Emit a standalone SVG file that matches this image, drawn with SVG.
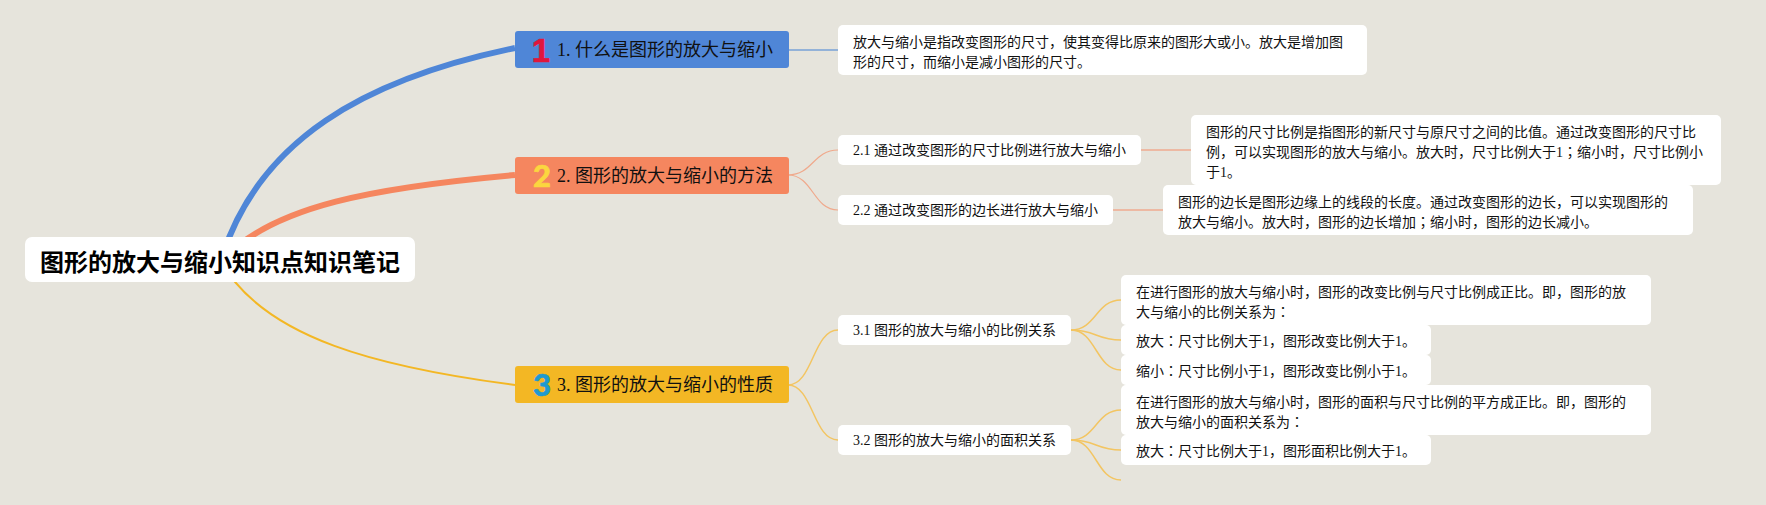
<svg xmlns="http://www.w3.org/2000/svg" width="1766" height="505" viewBox="0 0 1766 505">
<style>
text{font-family:"Liberation Serif","Noto Sans CJK SC",serif;fill:#111}
.w{fill:#fff}
.d{font-size:14px}
.t{font-size:18px}
.c{font-family:"Noto Sans CJK TC",sans-serif}
.r{font-family:"Liberation Sans","Noto Sans CJK SC",sans-serif;font-size:24px;font-weight:700;fill:#000}
.b{font-family:Lato,"Liberation Sans",sans-serif;font-size:31px;font-weight:900;text-anchor:middle;stroke-width:.6}
.b1{font-family:"Liberation Sans",sans-serif;font-size:33px;font-weight:700;fill:#e0163c;stroke:#e0163c}
.b2{fill:#fbd63f;stroke:#fbd63f}
.b3{fill:#1f9ad0;stroke:#1f9ad0}
.l{fill:none}
.bl{stroke:#4f86d7}
.or{stroke:#f5865f}
.am{stroke:#f3b724}
.orl{stroke:#f0a98c;stroke-width:1.2}
.aml{stroke:#f3c562;stroke-width:1.5}
</style>
<rect width="1766" height="505" fill="#e6e4dc"/>
<g id="connectors">
<path class="l bl" stroke-width="6" d="M221 260C258 140 365 79 515 48"/>
<path class="l or" stroke-width="6" d="M221 262C270 205 380 187 515 175"/>
<path class="l am" stroke-width="2" d="M219 258C262 340 385 368 515 385"/>
<path class="l" stroke="#93b2d8" stroke-width="2" d="M788 50H838"/>
<path class="l orl" d="M788 175C813 175 813 150 838 150"/>
<path class="l orl" d="M788 175C813 175 813 210 838 210"/>
<path class="l" stroke="#edb9a3" stroke-width="2" d="M1141 150H1191M1113 210H1163"/>
<path class="l aml" d="M788 385C813 385 813 330 838 330"/>
<path class="l aml" d="M788 385C813 385 813 440 838 440"/>
<path class="l aml" d="M1071 330C1096 330 1096 300 1121 300"/>
<path class="l aml" d="M1071 330C1096 330 1096 340 1121 340"/>
<path class="l aml" d="M1071 330C1096 330 1096 370 1121 370"/>
<path class="l aml" d="M1071 440C1096 440 1096 410 1121 410"/>
<path class="l aml" d="M1071 440C1096 440 1096 450 1121 450"/>
<path class="l aml" d="M1071 440C1096 440 1096 480 1121 480"/>
</g>
<g id="root"><rect class="w" x="25" y="237" width="390" height="45" rx="7"/><text class="r" x="40" y="271">图形的放大与缩小知识点知识笔记</text></g>
<g id="topic1"><rect x="515" y="31" width="274" height="37" rx="3" fill="#4f86d7"/><text class="b b1" x="541" y="62">1</text><text class="t" x="557" y="56">1. 什么是图形的放大与缩小</text></g>
<g id="topic2"><rect x="515" y="157" width="274" height="37" rx="3" fill="#f5865f"/><text class="b b2" x="542" y="187">2</text><text class="t" x="557" y="182">2. 图形的放大与缩小的方法</text></g>
<g id="topic3"><rect x="515" y="366" width="274" height="37" rx="3" fill="#f3b724"/><text class="b b3" x="542" y="396">3</text><text class="t" x="557" y="391">3. 图形的放大与缩小的性质</text></g>
<g id="d1"><rect class="w" x="838" y="25" width="529" height="50" rx="5"/><text class="d" x="853" y="47">放大与缩小是指改变图形的尺寸，使其变得比原来的图形大或小。放大是增加图</text><text class="d" x="853" y="67">形的尺寸，而缩小是减小图形的尺寸。</text></g>
<g id="n21"><rect class="w" x="838" y="135" width="303" height="30" rx="5"/><text class="d" x="853" y="155">2.1 通过改变图形的尺寸比例进行放大与缩小</text></g>
<g id="n22"><rect class="w" x="838" y="195" width="275" height="30" rx="5"/><text class="d" x="853" y="215">2.2 通过改变图形的边长进行放大与缩小</text></g>
<g id="d21"><rect class="w" x="1191" y="115" width="530" height="70" rx="5"/><text class="d" x="1206" y="137">图形的尺寸比例是指图形的新尺寸与原尺寸之间的比值。通过改变图形的尺寸比</text><text class="d" x="1206" y="157">例，可以实现图形的放大与缩小。放大时，尺寸比例大于1<tspan class="c">；</tspan>缩小时，尺寸比例小</text><text class="d" x="1206" y="177">于1。</text></g>
<g id="d22"><rect class="w" x="1163" y="185" width="530" height="50" rx="5"/><text class="d" x="1178" y="207">图形的边长是图形边缘上的线段的长度。通过改变图形的边长，可以实现图形的</text><text class="d" x="1178" y="227">放大与缩小。放大时，图形的边长增加<tspan class="c">；</tspan>缩小时，图形的边长减小。</text></g>
<g id="n31"><rect class="w" x="838" y="315" width="233" height="30" rx="5"/><text class="d" x="853" y="335">3.1 图形的放大与缩小的比例关系</text></g>
<g id="n32"><rect class="w" x="838" y="425" width="233" height="30" rx="5"/><text class="d" x="853" y="445">3.2 图形的放大与缩小的面积关系</text></g>
<g id="d31"><rect class="w" x="1121" y="275" width="530" height="50" rx="5"/><text class="d" x="1136" y="297">在进行图形的放大与缩小时，图形的改变比例与尺寸比例成正比。即，图形的放</text><text class="d" x="1136" y="317">大与缩小的比例关系为<tspan class="c">：</tspan></text></g>
<g id="d32"><rect class="w" x="1121" y="325" width="310" height="30" rx="5"/><text class="d" x="1136" y="346">放大<tspan class="c">：</tspan>尺寸比例大于1，图形改变比例大于1。</text></g>
<g id="d33"><rect class="w" x="1121" y="355" width="310" height="30" rx="5"/><text class="d" x="1136" y="376">缩小<tspan class="c">：</tspan>尺寸比例小于1，图形改变比例小于1。</text></g>
<g id="d34"><rect class="w" x="1121" y="385" width="530" height="50" rx="5"/><text class="d" x="1136" y="407">在进行图形的放大与缩小时，图形的面积与尺寸比例的平方成正比。即，图形的</text><text class="d" x="1136" y="427">放大与缩小的面积关系为<tspan class="c">：</tspan></text></g>
<g id="d35"><rect class="w" x="1121" y="435" width="310" height="30" rx="5"/><text class="d" x="1136" y="456">放大<tspan class="c">：</tspan>尺寸比例大于1，图形面积比例大于1。</text></g>
</svg>
